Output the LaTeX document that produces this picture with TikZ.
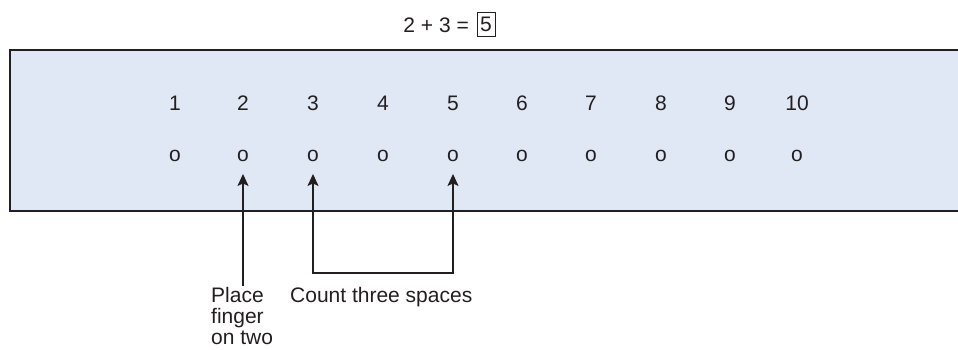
\documentclass[tikz,border=0pt]{standalone}
\usepackage{fontspec}
\setmainfont{Liberation Sans}
\usetikzlibrary{arrows.meta}
\definecolor{panel}{HTML}{DFE8F4}
\definecolor{ink}{HTML}{231F20}
\tikzset{ptr/.tip={Stealth[length=12pt,width=11pt,inset=2.5pt]}}
\begin{document}
\begin{tikzpicture}[x=1pt,y=-1pt,
  txt/.style={inner sep=0pt, text=ink, font=\fontsize{21}{21}\selectfont},
  digit/.style={txt, anchor=center},
  pointer/.style={draw=ink, line width=1.4pt, -ptr},
  border/.style={draw=ink, line width=2pt}]
\useasboundingbox (0,0) rectangle (958,349);
% number line panel
\fill[panel] (10,50) rectangle (958,211);
\draw[border] (958,50) -- (10,50) -- (10,211) -- (958,211);
% equation at the top
\node[txt, anchor=base east] (eq) at (469,32) {2 + 3 =};
\node[txt, anchor=center, draw=ink, line width=1pt, minimum width=18pt, minimum height=24pt] (ans) at (486,24) {5};
% numbers and positions
\foreach \i/\x in {1/175,2/243,3/313,4/383,5/453,6/522,7/591,8/661,9/730,10/797}{
  \node[digit] (n\i) at (\x,103) {\i};
  \node[digit] (o\i) at (\x,156) {o};
}
% labels
\node[txt, anchor=north west, align=left] (place) at (211,287) {Place\\finger\\on two};
\node[txt, anchor=north west] (count) at (290,287) {Count three spaces};
% arrows
\coordinate (base) at (0,273);
\draw[pointer] (o2.south |- place.north) ++(0,-1) -- ([yshift=-12pt]o2.south);
\draw[pointer, ptr-ptr]
  ([yshift=-12pt]o3.south) -- (o3.south |- base) -- (o5.south |- base) -- ([yshift=-12pt]o5.south);
\end{tikzpicture}
\end{document}
